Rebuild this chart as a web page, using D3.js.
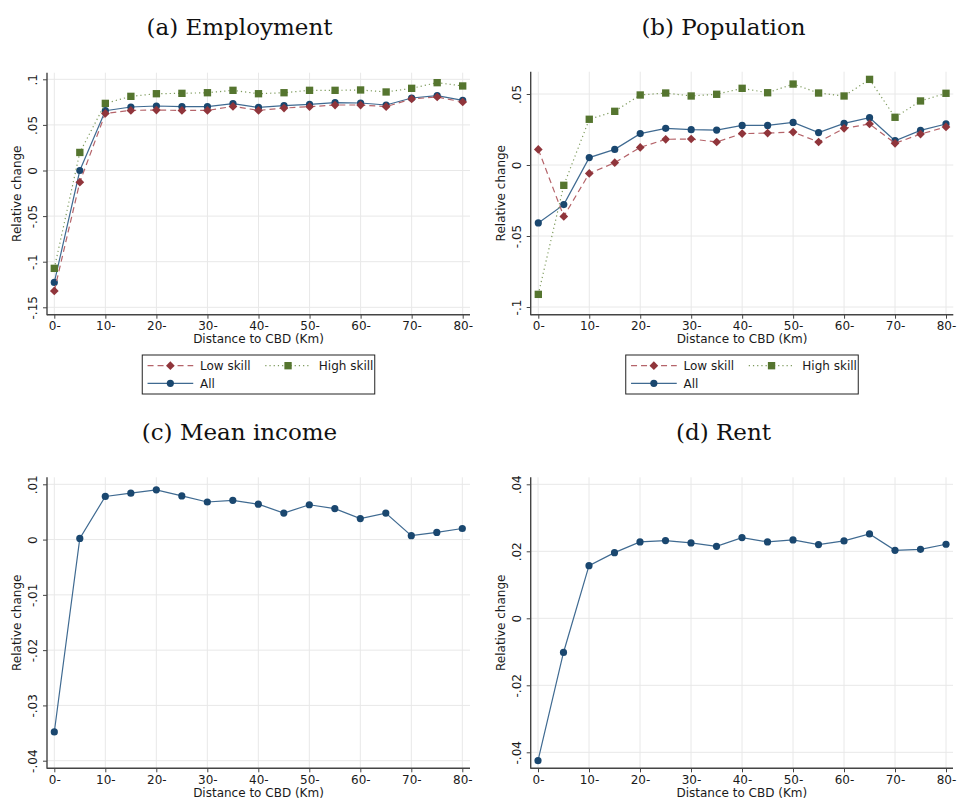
<!DOCTYPE html>
<html>
<head>
<meta charset="utf-8">
<script src="https://cdn.jsdelivr.net/npm/d3@7"></script>
<style>
  body { margin: 0; background: #fff; }
  text { font-family: "DejaVu Sans", sans-serif; fill: #1a1a1a; }
  .title { font-family: "DejaVu Serif", serif; font-size: 23px; fill: #111; }
</style>
</head>
<body>
<div class="canvas"></div>
<script>
// distance bands (km) and tick labels
const distance = [0, 5, 10, 15, 20, 25, 30, 35, 40, 45, 50, 55, 60, 65, 70, 75, 80];
const xTicks = [0, 10, 20, 30, 40, 50, 60, 70, 80];
const xTickLabels = ["0-", "10-", "20-", "30-", "40-", "50-", "60-", "70-", "80-"];

// (a) Employment
const empLow  = [-0.132, -0.0128, 0.0626, 0.0659, 0.0663, 0.0659, 0.0659, 0.0703, 0.0659, 0.0685, 0.0700, 0.0718, 0.0718, 0.0700, 0.0784, 0.0806, 0.0751];
const empHigh = [-0.1073, 0.0198, 0.0736, 0.0813, 0.0842, 0.0846, 0.0853, 0.0879, 0.0842, 0.0853, 0.0879, 0.0879, 0.0883, 0.0861, 0.0901, 0.0963, 0.0927];
const empAll  = [-0.1227, 0.0000, 0.0656, 0.0696, 0.0707, 0.0700, 0.0700, 0.0733, 0.0692, 0.0711, 0.0725, 0.0744, 0.0740, 0.0718, 0.0795, 0.0821, 0.0769];
const empTicks = [-0.15, -0.1, -0.05, 0, 0.05, 0.1];
const empTickLabels = ["-.15", "-.1", "-.05", "0", ".05", ".1"];

// (b) Population
const popLow  = [0.0110, -0.0362, -0.0059, 0.0016, 0.0124, 0.0181, 0.0183, 0.0162, 0.0221, 0.0225, 0.0232, 0.0162, 0.0258, 0.0289, 0.0153, 0.0218, 0.0268];
const popHigh = [-0.0911, -0.0143, 0.0322, 0.0378, 0.0493, 0.0507, 0.0486, 0.0498, 0.0540, 0.0509, 0.0570, 0.0507, 0.0486, 0.0603, 0.0336, 0.0451, 0.0505];
const popAll  = [-0.0408, -0.0279, 0.0052, 0.0110, 0.0221, 0.0258, 0.0249, 0.0246, 0.0279, 0.0279, 0.0300, 0.0228, 0.0293, 0.0333, 0.0171, 0.0244, 0.0289];
const popTicks = [-0.1, -0.05, 0, 0.05];
const popTickLabels = ["-.1", "-.05", "0", ".05"];

// (c) Mean income
const incomeAll = [-0.0348, 0.0002, 0.0078, 0.0084, 0.0090, 0.0079, 0.0068, 0.0071, 0.0064, 0.0048, 0.0063, 0.0056, 0.0038, 0.0048, 0.0007, 0.0013, 0.0020];
const incomeTicks = [-0.04, -0.03, -0.02, -0.01, 0, 0.01];
const incomeTickLabels = ["-.04", "-.03", "-.02", "-.01", "0", ".01"];

// (d) Rent
const rentAll = [-0.0425, -0.0102, 0.0157, 0.0196, 0.0228, 0.0232, 0.0225, 0.0215, 0.0241, 0.0228, 0.0234, 0.0220, 0.0231, 0.0252, 0.0203, 0.0206, 0.0221];
const rentTicks = [-0.04, -0.02, 0, 0.02, 0.04];
const rentTickLabels = ["-.04", "-.02", "0", ".02", ".04"];

const seriesNames = ["Low skill", "High skill", "All"];

const styles = {
  "Low skill":  { color: "#90353b", line: "#b5646a", dash: "6,4", shape: "diamond" },
  "High skill": { color: "#55752f", line: "#7d9a5c", dash: "1.2,3", shape: "square" },
  "All":        { color: "#1a476f", line: "#3f6a91", dash: null, shape: "circle" }
};

const svg = d3.select('.canvas')
  .append('svg')
  .attr('width', 957)
  .attr('height', 803);

function marker(g, shape, color, x, y) {
  if (shape === "circle") {
    g.append('circle').attr('cx', x).attr('cy', y).attr('r', 3.6).attr('fill', color);
  } else if (shape === "square") {
    g.append('path')
      .attr('d', d3.symbol().type(d3.symbolSquare).size(54)())
      .attr('transform', `translate(${x},${y})`)
      .attr('fill', color);
  } else {
    g.append('path')
      .attr('d', d3.symbol().type(d3.symbolSquare).size(38)())
      .attr('transform', `translate(${x},${y}) rotate(45)`)
      .attr('fill', color);
  }
}

function drawPanel(p) {
  const g = svg.append('g');

  const x = d3.scaleLinear().domain([0, 80]).range([p.x0, p.x80]);
  const y = d3.scaleLinear()
    .domain([p.ticks[0], p.ticks[p.ticks.length - 1]])
    .range([p.yLow, p.yHigh]);

  // title
  svg.append('text')
    .attr('class', 'title')
    .attr('x', p.titleX)
    .attr('y', p.titleY)
    .attr('text-anchor', 'middle')
    .text(p.title);

  // grid
  g.selectAll('.hgrid').data(p.ticks).join('line')
    .attr('x1', p.left).attr('x2', p.right)
    .attr('y1', d => y(d)).attr('y2', d => y(d))
    .attr('stroke', '#e8e8e8').attr('stroke-width', 1);
  g.selectAll('.vgrid').data(xTicks).join('line')
    .attr('x1', d => x(d)).attr('x2', d => x(d))
    .attr('y1', p.top).attr('y2', p.bottom)
    .attr('stroke', '#e8e8e8').attr('stroke-width', 1);

  // y axis
  const yAxis = g.append('g')
    .attr('transform', `translate(${p.left},0)`)
    .call(d3.axisLeft(y).tickValues(p.ticks)
      .tickFormat((d, i) => p.tickLabels[i]).tickSize(4).tickSizeOuter(0));
  yAxis.select('.domain').remove();
  yAxis.selectAll('line').attr('stroke', '#444');
  yAxis.selectAll('text')
    .attr('x', null).attr('dy', null)
    .attr('text-anchor', 'middle')
    .attr('transform', 'translate(-10,0) rotate(-90)')
    .style('font-size', '12px')
    .style('font-family', '"DejaVu Sans", sans-serif')
    .attr('fill', '#1a1a1a');

  // x axis
  const xAxis = g.append('g')
    .attr('transform', `translate(0,${p.bottom})`)
    .call(d3.axisBottom(x).tickValues(xTicks)
      .tickFormat((d, i) => xTickLabels[i]).tickSize(4).tickPadding(3).tickSizeOuter(0));
  xAxis.select('.domain').remove();
  xAxis.selectAll('line').attr('stroke', '#444');
  xAxis.selectAll('text')
    .style('font-size', '12px')
    .style('font-family', '"DejaVu Sans", sans-serif')
    .attr('fill', '#1a1a1a');

  // axis lines
  g.append('line')
    .attr('x1', p.left).attr('x2', p.left)
    .attr('y1', p.top).attr('y2', p.bottom + 0.5)
    .attr('stroke', '#444').attr('stroke-width', 1.4);
  g.append('line')
    .attr('x1', p.left).attr('x2', p.right)
    .attr('y1', p.bottom).attr('y2', p.bottom)
    .attr('stroke', '#444').attr('stroke-width', 1.4);

  // axis titles
  g.append('text')
    .attr('transform', `translate(${p.left - 26},${(p.top + p.bottom) / 2}) rotate(-90)`)
    .attr('text-anchor', 'middle')
    .style('font-size', '12px')
    .text('Relative change');
  g.append('text')
    .attr('x', (p.left + p.right) / 2)
    .attr('y', p.bottom + 28.5)
    .attr('text-anchor', 'middle')
    .style('font-size', '12px')
    .text('Distance to CBD (Km)');

  // series
  const line = d3.line().x((d, i) => x(distance[i])).y(d => y(d));
  p.series.forEach(s => {
    const st = styles[s.name];
    g.append('path')
      .datum(s.values)
      .attr('d', line)
      .attr('fill', 'none')
      .attr('stroke', st.line)
      .attr('stroke-width', 1.2)
      .attr('stroke-dasharray', st.dash);
    s.values.forEach((v, i) => marker(g, st.shape, st.color, x(distance[i]), y(v)));
  });

  // legend
  if (p.legend) {
    const lw = 232.5, lh = 39;
    const lx = (p.left + p.right) / 2 - lw / 2, ly = 355;
    const lg = svg.append('g').attr('transform', `translate(${lx},${ly})`);
    lg.append('rect').attr('width', lw).attr('height', lh)
      .attr('fill', '#fff').attr('stroke', '#222').attr('stroke-width', 1);
    const slots = [[5.3, 10.7], [123, 10.7], [5.3, 28.3]];
    seriesNames.forEach((name, i) => {
      const st = styles[name];
      const [sx, sy] = slots[i];
      lg.append('line')
        .attr('x1', sx).attr('x2', sx + 45.7)
        .attr('y1', sy).attr('y2', sy)
        .attr('stroke', st.line).attr('stroke-width', 1.2)
        .attr('stroke-dasharray', st.dash);
      marker(lg, st.shape, st.color, sx + 22.8, sy);
      lg.append('text')
        .attr('x', sx + (i === 1 ? 53.6 : 52.4))
        .attr('y', sy)
        .attr('dy', '0.36em')
        .style('font-size', '12px')
        .text(name);
    });
  }
}

drawPanel({
  title: "(a) Employment", titleX: 239.5, titleY: 35,
  left: 47, right: 470, top: 72.7, bottom: 314.7,
  x0: 54.3, x80: 462.7, yLow: 307.3, yHigh: 79.3,
  ticks: empTicks, tickLabels: empTickLabels, legend: true,
  series: [
    { name: "All", values: empAll },
    { name: "Low skill", values: empLow },
    { name: "High skill", values: empHigh }
  ]
});

drawPanel({
  title: "(b) Population", titleX: 723.5, titleY: 35,
  left: 530.7, right: 953.3, top: 71.7, bottom: 314.7,
  x0: 538.3, x80: 946, yLow: 307, yHigh: 94,
  ticks: popTicks, tickLabels: popTickLabels, legend: true,
  series: [
    { name: "All", values: popAll },
    { name: "Low skill", values: popLow },
    { name: "High skill", values: popHigh }
  ]
});

drawPanel({
  title: "(c) Mean income", titleX: 239.5, titleY: 439.5,
  left: 47, right: 470, top: 477.3, bottom: 768.3,
  x0: 54.3, x80: 462.3, yLow: 760.7, yHigh: 484.3,
  ticks: incomeTicks, tickLabels: incomeTickLabels, legend: false,
  series: [{ name: "All", values: incomeAll }]
});

drawPanel({
  title: "(d) Rent", titleX: 723.5, titleY: 439.5,
  left: 530.7, right: 953, top: 477.3, bottom: 768.3,
  x0: 538, x80: 946, yLow: 752.3, yHigh: 484.3,
  ticks: rentTicks, tickLabels: rentTickLabels, legend: false,
  series: [{ name: "All", values: rentAll }]
});
</script>
</body>
</html>
